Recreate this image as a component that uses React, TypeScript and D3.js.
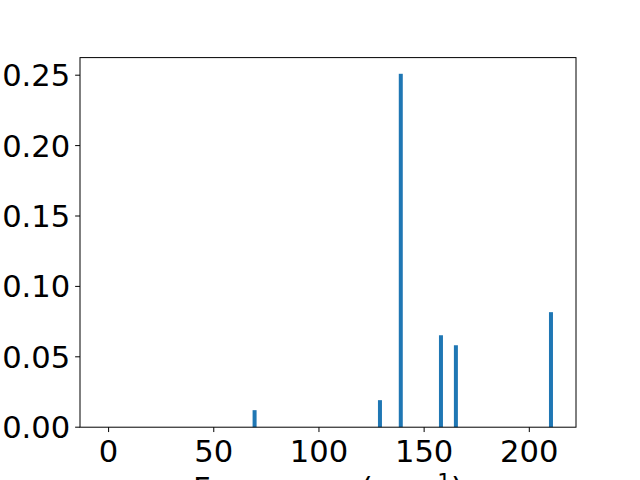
import React from "react";
import * as d3 from "d3";

const frequencies = [69.4, 129.0, 138.9, 158.0, 165.1, 210.3];
const intensities = [0.0121, 0.0192, 0.251, 0.0653, 0.0582, 0.0817];
const xTicks = [0, 50, 100, 150, 200];
const yTicks = [0, 0.05, 0.1, 0.15, 0.2, 0.25];
const barWidth = 1.9;

const W = 640;
const H = 480;
const m = { left: 80, right: 576, top: 57.6, bottom: 427.2 };
const FONT = "DejaVu Sans, sans-serif";
const FS = 30.6;

export default function App() {
  const x = d3.scaleLinear().domain([-13.6, 222.2]).range([m.left, m.right]);
  const y = d3.scaleLinear().domain([0, 0.2625]).range([m.bottom, m.top]);
  const tick = 4.86;
  return (
    <svg width={W} height={H} style={{ position: "absolute", left: 0, top: 0, background: "#fff" }}>
      <rect x={0} y={0} width={W} height={H} fill="#fff" />
      {frequencies.map((f, i) => (
        <rect
          key={i}
          x={x(f - barWidth / 2)}
          width={x(f + barWidth / 2) - x(f - barWidth / 2)}
          y={y(intensities[i])}
          height={y(0) - y(intensities[i])}
          fill="#1f77b4"
        />
      ))}
      <rect x={m.left} y={m.top} width={m.right - m.left} height={m.bottom - m.top} fill="none" stroke="#000" strokeWidth={1} />
      {xTicks.map((t) => (
        <g key={t}>
          <line x1={x(t)} x2={x(t)} y1={m.bottom} y2={m.bottom + tick} stroke="#000" strokeWidth={1} />
          <text x={x(t)} y={461.5} textAnchor="middle" fontFamily={FONT} fontSize={FS} fill="#000">{t}</text>
        </g>
      ))}
      {yTicks.map((t) => (
        <g key={t}>
          <line x1={m.left - tick} x2={m.left} y1={y(t)} y2={y(t)} stroke="#000" strokeWidth={1} />
          <text x={m.left - 2 * tick} y={y(t)} dy="0.36em" textAnchor="end" fontFamily={FONT} fontSize={FS} fill="#000">{d3.format(".2f")(t)}</text>
        </g>
      ))}
      <text x={(m.left + m.right) / 2} y={499.3} textAnchor="middle" fontFamily={FONT} fontSize={FS} fill="#000">
        Frequency (cm<tspan dy={-10.4} fontSize={FS * 0.7}>−1</tspan><tspan dy={10.4}>)</tspan>
      </text>
    </svg>
  );
}
